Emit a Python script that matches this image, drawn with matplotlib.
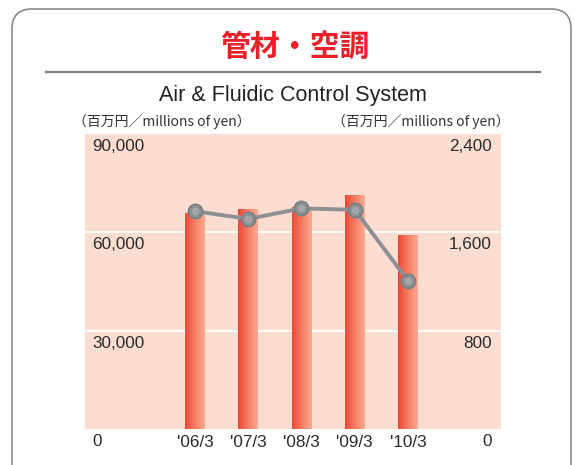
import numpy as np
import matplotlib
matplotlib.use("Agg")
import matplotlib.pyplot as plt
from matplotlib.colors import LinearSegmentedColormap
from matplotlib.patches import FancyBboxPatch
from matplotlib.transforms import IdentityTransform
from matplotlib.lines import Line2D

# ---- data ----
categories = ["'06/3", "'07/3", "'08/3", "'09/3", "'10/3"]
sales = [66000, 67000, 67800, 71400, 59200]          # left axis (bars)
profit = [1772, 1709, 1795, 1783, 1207]              # right axis (line)
left_ticks = [0, 30000, 60000, 90000]
left_tick_labels = ["0", "30,000", "60,000", "90,000"]
right_ticks = [0, 800, 1600, 2400]
right_tick_labels = ["0", "800", "1,600", "2,400"]
title_jp = "管材・空調"
title_en = "Air & Fluidic Control System"
unit_label = "（百万円／millions of yen）"

W, H = 574, 465
DPI = 100
fig = plt.figure(figsize=(W / DPI, H / DPI), dpi=DPI)
fig.patch.set_facecolor("white")

def fx(px):
    return px / W

def fy(py):
    return 1 - py / H

# outer rounded frame (pixel coords)
frame = FancyBboxPatch((12, -30), 559, 465 - 9 + 30,
                       boxstyle="round,pad=0,rounding_size=20",
                       transform=IdentityTransform(), facecolor="none",
                       edgecolor="#8a8a8a", linewidth=1.2)
fig.add_artist(frame)

# title
fig.text(fx(295), fy(47), title_jp, ha="center", va="center", fontsize=21.5,
         fontweight="bold", color="#e8202a", family=["Noto Sans CJK JP", "DejaVu Sans"])
fig.add_artist(Line2D([fx(46), fx(540)], [fy(72), fy(72)], color="#7f7f7f", linewidth=1.6))
fig.text(fx(293), fy(96), title_en, ha="center", va="center", fontsize=15.5,
         color="#222222", family=["Liberation Sans Narrow", "Liberation Sans", "DejaVu Sans"])
fig.text(fx(73), fy(122), unit_label, ha="left", va="center", fontsize=10,
         color="#333333", family=["Noto Sans CJK JP", "DejaVu Sans"])
fig.text(fx(510), fy(122), unit_label, ha="right", va="center", fontsize=10,
         color="#333333", family=["Noto Sans CJK JP", "DejaVu Sans"])

# axes
left, right, top, bottom = 85, 501, 134, 429
ax = fig.add_axes([fx(left), fy(bottom), fx(right - left), (bottom - top) / H])
ax.set_facecolor("#fcddd1")
for s in ax.spines.values():
    s.set_visible(False)
ax.set_xticks([])
ax.set_yticks([])

x = np.arange(len(categories))
step = 53.3
xmin = -(195 - left) / step
xmax = 4 + (right - 408) / step
bw = 20 / step

ax.set_xlim(xmin, xmax)
ax.set_ylim(0, 90000)

for v in left_ticks[1:-1]:
    ax.axhline(v, color="white", linewidth=1.3, zorder=1)

cmap = LinearSegmentedColormap.from_list("barg", ["#ee4736", "#f57d63", "#f9ad93"])
grad = np.linspace(0, 1, 256).reshape(1, -1)
bars = ax.bar(x, sales, width=bw, color="none", edgecolor="none", zorder=2)
for b in bars:
    x0, y0 = b.get_x(), b.get_y()
    im = ax.imshow(grad, extent=[x0, x0 + b.get_width(), y0, y0 + b.get_height()],
                   aspect="auto", cmap=cmap, zorder=2, interpolation="bilinear")
    im.set_clip_path(b)
ax.set_xlim(xmin, xmax)
ax.set_ylim(0, 90000)

tick_font = ["Liberation Sans", "DejaVu Sans"]
tick_color = "#2a2a2a"
# left tick labels (inside the plot, below the grid line)
for v, lab in zip(left_ticks, left_tick_labels):
    ax.annotate(lab, xy=(0, v), xycoords=("axes fraction", "data"),
                xytext=(7, -5), textcoords="offset pixels", ha="left", va="top",
                fontsize=12.3, color=tick_color, family=tick_font, annotation_clip=False)
# category labels
for xi, lab in zip(x, categories):
    ax.annotate(lab, xy=(xi, 0), xycoords="data", xytext=(0, -6), textcoords="offset pixels",
                ha="center", va="top", fontsize=12.3, color=tick_color, family=tick_font,
                annotation_clip=False)

ax2 = ax.twinx()
ax2.set_ylim(0, 2400)
ax2.set_xlim(xmin, xmax)
for s in ax2.spines.values():
    s.set_visible(False)
ax2.set_yticks([])
for v, lab in zip(right_ticks, right_tick_labels):
    ax2.annotate(lab, xy=(1, v), xycoords=("axes fraction", "data"),
                 xytext=(-9, -5), textcoords="offset pixels", ha="right", va="top",
                 fontsize=12.3, color=tick_color, family=tick_font, annotation_clip=False)

ax2.plot(x, profit, color="#8e9093", linewidth=2.8, zorder=3, solid_capstyle="round")
ax2.plot(x, profit, linestyle="none", marker="o", markersize=11.5, markerfacecolor="#7c7f82",
         markeredgecolor="none", zorder=4)
ax2.plot(x, profit, linestyle="none", marker="o", markersize=9, markerfacecolor="#8d9093",
         markeredgecolor="none", zorder=5)
ax2.plot(x, profit, linestyle="none", marker="o", markersize=5.5, markerfacecolor="#a4a6a8",
         markeredgecolor="none", zorder=6)

fig.savefig("out.png", dpi=DPI)
